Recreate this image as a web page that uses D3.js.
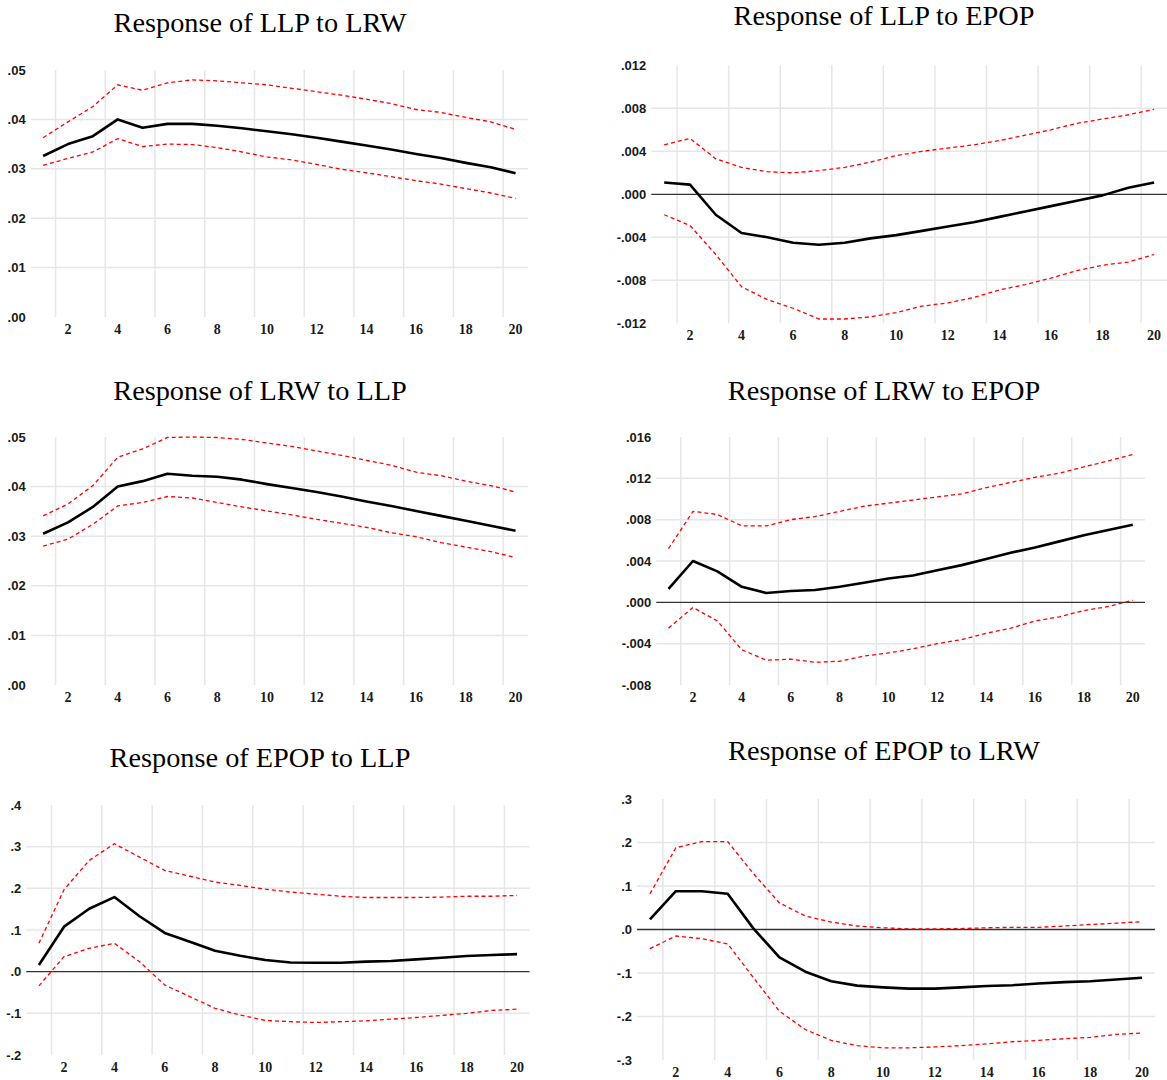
<!DOCTYPE html>
<html>
<head>
<meta charset="utf-8">
<script src="https://cdn.jsdelivr.net/npm/d3@7/dist/d3.min.js"></script>
<style>
body { margin: 0; background: #fff; }
</style>
</head>
<body>
<svg id="chart"></svg>
<script>
var periods = [1, 2, 3, 4, 5, 6, 7, 8, 9, 10, 11, 12, 13, 14, 15, 16, 17, 18, 19, 20];
var xTicks = [2, 4, 6, 8, 10, 12, 14, 16, 18, 20];

// Response of LLP to LRW
var llpLrw = [.0326, .0350, .0366, .0400, .0383, .0391, .0391, .0387, .0382, .0376,
              .0370, .0363, .0355, .0347, .0339, .0330, .0322, .0312, .0303, .0291];
var llpLrwHi = [.0363, .0395, .0426, .0470, .0459, .0474, .0480, .0478, .0474, .0470,
                .0463, .0456, .0449, .0441, .0432, .0420, .0414, .0404, .0395, .0380];
var llpLrwLo = [.0307, .0321, .0334, .0361, .0345, .0350, .0349, .0343, .0334, .0324,
                .0318, .0309, .0299, .0292, .0284, .0276, .0269, .0260, .0251, .0240];

// Response of LLP to EPOP
var llpEpop = [.0011, .0009, -.0019, -.0036, -.0040, -.0045, -.0047, -.0045, -.0041, -.0038,
               -.0034, -.0030, -.0026, -.0021, -.0016, -.0011, -.0006, -.0001, .0006, .0011];
var llpEpopHi = [.0046, .0052, .0033, .0025, .0021, .0020, .0022, .0025, .0030, .0036,
                 .0040, .0043, .0046, .0050, .0055, .0060, .0066, .0070, .0074, .0079];
var llpEpopLo = [-.0019, -.0029, -.0056, -.0086, -.0098, -.0106, -.0116, -.0116, -.0114, -.0110,
                 -.0104, -.0101, -.0096, -.0089, -.0084, -.0078, -.0071, -.0066, -.0063, -.0056];

// Response of LRW to LLP
var lrwLlp = [.0305, .0328, .0359, .0400, .0411, .0426, .0422, .0420, .0414, .0405,
              .0397, .0389, .0380, .0370, .0361, .0351, .0341, .0331, .0321, .0311];
var lrwLlpHi = [.0341, .0365, .0402, .0459, .0476, .0499, .0500, .0499, .0495, .0488,
                .0481, .0472, .0463, .0453, .0443, .0429, .0422, .0411, .0402, .0389];
var lrwLlpLo = [.0280, .0294, .0324, .0361, .0368, .0380, .0377, .0368, .0359, .0351,
                .0343, .0334, .0326, .0318, .0307, .0299, .0287, .0278, .0269, .0257];

// Response of LRW to EPOP
var lrwEpop = [.0013, .0040, .0030, .0015, .0009, .0011, .0012, .0015, .0019, .0023,
               .0026, .0031, .0036, .0042, .0048, .0053, .0059, .0065, .0070, .0075];
var lrwEpopHi = [.0052, .0088, .0085, .0074, .0074, .0080, .0083, .0088, .0093, .0096,
                 .0099, .0102, .0105, .0111, .0116, .0121, .0125, .0131, .0137, .0143];
var lrwEpopLo = [-.0025, -.0005, -.0018, -.0046, -.0056, -.0055, -.0058, -.0057, -.0052, -.0049,
                 -.0045, -.0040, -.0036, -.0030, -.0025, -.0018, -.0014, -.0008, -.0004, .0002];

// Response of EPOP to LLP
var epopLlp = [.016, .108, .151, .179, .133, .093, .072, .050, .038, .028,
               .022, .0215, .0215, .024, .0255, .0295, .0335, .0375, .040, .042];
var epopLlpHi = [.068, .197, .267, .307, .275, .243, .229, .215, .207, .198,
                 .191, .186, .181, .178, .178, .178, .179, .181, .181, .183];
var epopLlpLo = [-.034, .036, .056, .068, .024, -.032, -.060, -.088, -.104, -.117,
                 -.120, -.122, -.120, -.118, -.114, -.110, -.105, -.100, -.093, -.090];

// Response of EPOP to LRW
var epopLrw = [.023, .088, .088, .082, .002, -.064, -.097, -.119, -.129, -.133,
               -.136, -.136, -.133, -.130, -.128, -.124, -.121, -.119, -.115, -.111];
var epopLrwHi = [.082, .188, .202, .202, .128, .061, .031, .017, .008, .004,
                 .0015, .0015, .002, .004, .005, .005, .008, .0115, .0145, .018];
var epopLrwLo = [-.044, -.015, -.021, -.033, -.111, -.188, -.230, -.255, -.267, -.272,
                 -.272, -.270, -.267, -.263, -.258, -.255, -.251, -.248, -.241, -.238];

// y ticks
var ticksA = [0, .01, .02, .03, .04, .05];
var labelsA = [".00", ".01", ".02", ".03", ".04", ".05"];
var ticksB = [-.012, -.008, -.004, 0, .004, .008, .012];
var labelsB = ["-.012", "-.008", "-.004", ".000", ".004", ".008", ".012"];
var ticksC = [-.008, -.004, 0, .004, .008, .012, .016];
var labelsC = ["-.008", "-.004", ".000", ".004", ".008", ".012", ".016"];
var ticksD = [-.2, -.1, 0, .1, .2, .3, .4];
var labelsD = ["-.2", "-.1", ".0", ".1", ".2", ".3", ".4"];
var ticksE = [-.3, -.2, -.1, 0, .1, .2, .3];
var labelsE = ["-.3", "-.2", "-.1", ".0", ".1", ".2", ".3"];

var width = 1167;
var height = 1080;

var svg = d3.select("#chart")
  .attr("width", width)
  .attr("height", height);

//panel layout: plot box + title position
var panels = [
  {title: "Response of LLP to LRW", irf: llpLrw, hi: llpLrwHi, lo: llpLrwLo,
   ticks: ticksA, labels: labelsA,
   left: 30.7, right: 528, top: 70, bottom: 317, tx: 260, ty: 32},
  {title: "Response of LLP to EPOP", irf: llpEpop, hi: llpEpopHi, lo: llpEpopLo,
   ticks: ticksB, labels: labelsB,
   left: 651.3, right: 1167, top: 65.3, bottom: 323.3, tx: 884, ty: 25},
  {title: "Response of LRW to LLP", irf: lrwLlp, hi: lrwLlpHi, lo: lrwLlpLo,
   ticks: ticksA, labels: labelsA,
   left: 30.7, right: 528, top: 437, bottom: 685, tx: 260, ty: 400},
  {title: "Response of LRW to EPOP", irf: lrwEpop, hi: lrwEpopHi, lo: lrwEpopLo,
   ticks: ticksC, labels: labelsC,
   left: 656.3, right: 1145, top: 437, bottom: 685, tx: 884, ty: 400},
  {title: "Response of EPOP to LLP", irf: epopLlp, hi: epopLlpHi, lo: epopLlpLo,
   ticks: ticksD, labels: labelsD,
   left: 26.3, right: 529.6, top: 805, bottom: 1055, tx: 260, ty: 767},
  {title: "Response of EPOP to LRW", irf: epopLrw, hi: epopLrwHi, lo: epopLrwLo,
   ticks: ticksE, labels: labelsE,
   left: 637, right: 1155, top: 799, bottom: 1060, tx: 884, ty: 760}
];

panels.forEach(function (p) {
  var g = svg.append("g");

  var x = d3.scaleLinear()
    .domain([0.5, 20.5])
    .range([p.left, p.right]);

  var y = d3.scaleLinear()
    .domain([p.ticks[0], p.ticks[p.ticks.length - 1]])
    .range([p.bottom, p.top]);

  //vertical grid, between periods
  xTicks.forEach(function (t) {
    g.append("line")
      .attr("x1", x(t - 0.5))
      .attr("x2", x(t - 0.5))
      .attr("y1", y.range()[1])
      .attr("y2", y.range()[0])
      .attr("stroke", "#e6e6e6")
      .attr("stroke-width", 1.5);
  });

  //horizontal grid, inner ticks only
  p.ticks.slice(1, -1).forEach(function (t) {
    g.append("line")
      .attr("x1", x.range()[0])
      .attr("x2", x.range()[1])
      .attr("y1", y(t))
      .attr("y2", y(t))
      .attr("stroke", t === 0 ? "#333" : "#e6e6e6")
      .attr("stroke-width", t === 0 ? 1.3 : 1.5);
  });

  //y labels
  p.ticks.forEach(function (t, i) {
    g.append("text")
      .text(p.labels[i])
      .attr("font-family", "Liberation Sans, Arial, sans-serif")
      .attr("font-size", "13px")
      .attr("font-weight", "bold")
      .attr("fill", "#1a1a1a")
      .attr("text-anchor", "end")
      .attr("dy", ".35em")
      .attr("x", p.left - 5)
      .attr("y", y(t));
  });

  //x labels
  xTicks.forEach(function (t) {
    g.append("text")
      .text(t)
      .attr("font-family", "Liberation Serif, Times New Roman, serif")
      .attr("font-size", "14px")
      .attr("font-weight", "bold")
      .attr("fill", "#1a1a1a")
      .attr("text-anchor", "middle")
      .attr("x", x(t))
      .attr("y", p.bottom + 17);
  });

  var line = function (vals) {
    return d3.line()
      .x(function (d, i) { return x(periods[i]); })
      .y(function (d) { return y(d); })(vals);
  };

  g.append("path")
    .attr("d", line(p.hi))
    .attr("fill", "none")
    .attr("stroke", "#ff0000")
    .attr("stroke-width", 1.3)
    .attr("stroke-dasharray", "4,3");

  g.append("path")
    .attr("d", line(p.lo))
    .attr("fill", "none")
    .attr("stroke", "#ff0000")
    .attr("stroke-width", 1.3)
    .attr("stroke-dasharray", "4,3");

  g.append("path")
    .attr("d", line(p.irf))
    .attr("fill", "none")
    .attr("stroke", "#000")
    .attr("stroke-width", 2.6)
    .attr("stroke-linejoin", "round");

  //title
  g.append("text")
    .text(p.title)
    .attr("font-family", "Liberation Serif, Times New Roman, serif")
    .attr("font-size", "28.3px")
    .attr("fill", "#000")
    .attr("text-anchor", "middle")
    .attr("x", p.tx)
    .attr("y", p.ty);
});
</script>
</body>
</html>
